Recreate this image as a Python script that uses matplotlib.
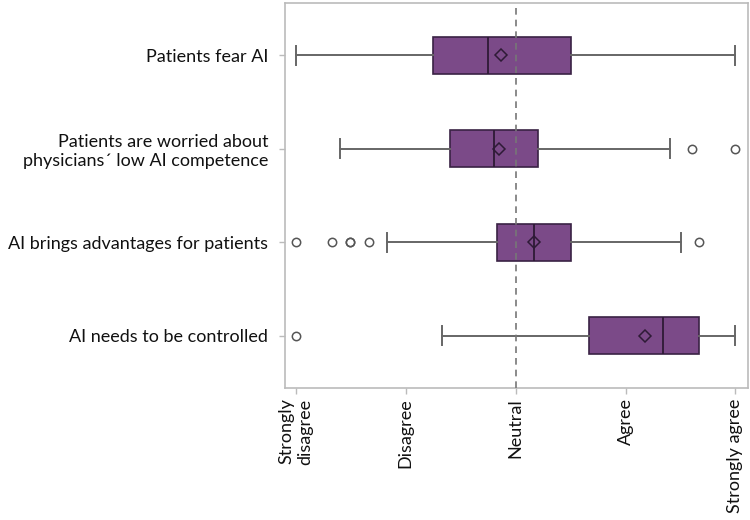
import matplotlib
matplotlib.use("Agg")
import matplotlib.pyplot as plt

plt.rcParams['font.family'] = ['Lato', 'DejaVu Sans']

# statements, top to bottom
items = ["Patients fear AI",
         "Patients are worried about\nphysicians\u00b4 low AI competence",
         "AI brings advantages for patients",
         "AI needs to be controlled"]
whis_lo = [0, 10, 20.8, 33.3]
q1 = [31.2, 35.1, 45.8, 66.7]
median = [43.8, 45.0, 54.2, 83.5]
q3 = [62.6, 55.1, 62.6, 91.8]
whis_hi = [100, 85.1, 87.6, 100]
means = [46.7, 46.3, 54.3, 79.5]
outliers = [[], [90.1, 100], [0, 8.3, 12.4, 12.4, 16.7, 91.8], [0]]

scale_ticks = [0, 25, 50, 75, 100]
scale_labels = ["Strongly\ndisagree", "Disagree", "Neutral", "Agree", "Strongly agree"]

stats = []
for i in range(len(items)):
    stats.append(dict(whislo=whis_lo[i], q1=q1[i], med=median[i], q3=q3[i],
                      whishi=whis_hi[i], mean=means[i], fliers=outliers[i]))

fig = plt.figure(figsize=(7.5, 5.2), dpi=100)
ax = fig.add_axes([0.3796, 0.2538, 0.6174, 0.7404])

pos = list(range(1, len(items) + 1))
ax.bxp(stats, positions=pos, vert=False, widths=0.4, patch_artist=True,
       showmeans=True, showfliers=True,
       boxprops=dict(facecolor="#7b4a88", edgecolor="#3a2244", linewidth=1.2),
       medianprops=dict(color="#2e1a36", linewidth=1.3),
       whiskerprops=dict(color="#666666", linewidth=1.4),
       capprops=dict(color="#666666", linewidth=1.4),
       meanprops=dict(marker="D", markerfacecolor="none", markeredgecolor="#2e1a36",
                      markersize=6.5, markeredgewidth=1.1),
       flierprops=dict(marker="o", markerfacecolor="none", markeredgecolor="#555555",
                       markersize=6, markeredgewidth=1.1))

ax.axvline(50, color="#777777", linestyle=(0, (4, 3)), linewidth=1.2, zorder=5)

ax.set_xlim(-2.5, 102.8)
ax.set_ylim(4.56, 0.44)
ax.set_yticks(pos)
ax.set_yticklabels(items, fontsize=13, color="#111111")
ax.set_xticks(scale_ticks)
ax.set_xticklabels(scale_labels, rotation=90, fontsize=13, color="#111111", va="top")
ax.tick_params(axis="both", length=4, color="#bbbbbb", width=1)
ax.tick_params(axis="y", pad=8)
for s in ax.spines.values():
    s.set_color("#bbbbbb")
    s.set_linewidth(1.2)

fig.savefig("out.png", dpi=100)
